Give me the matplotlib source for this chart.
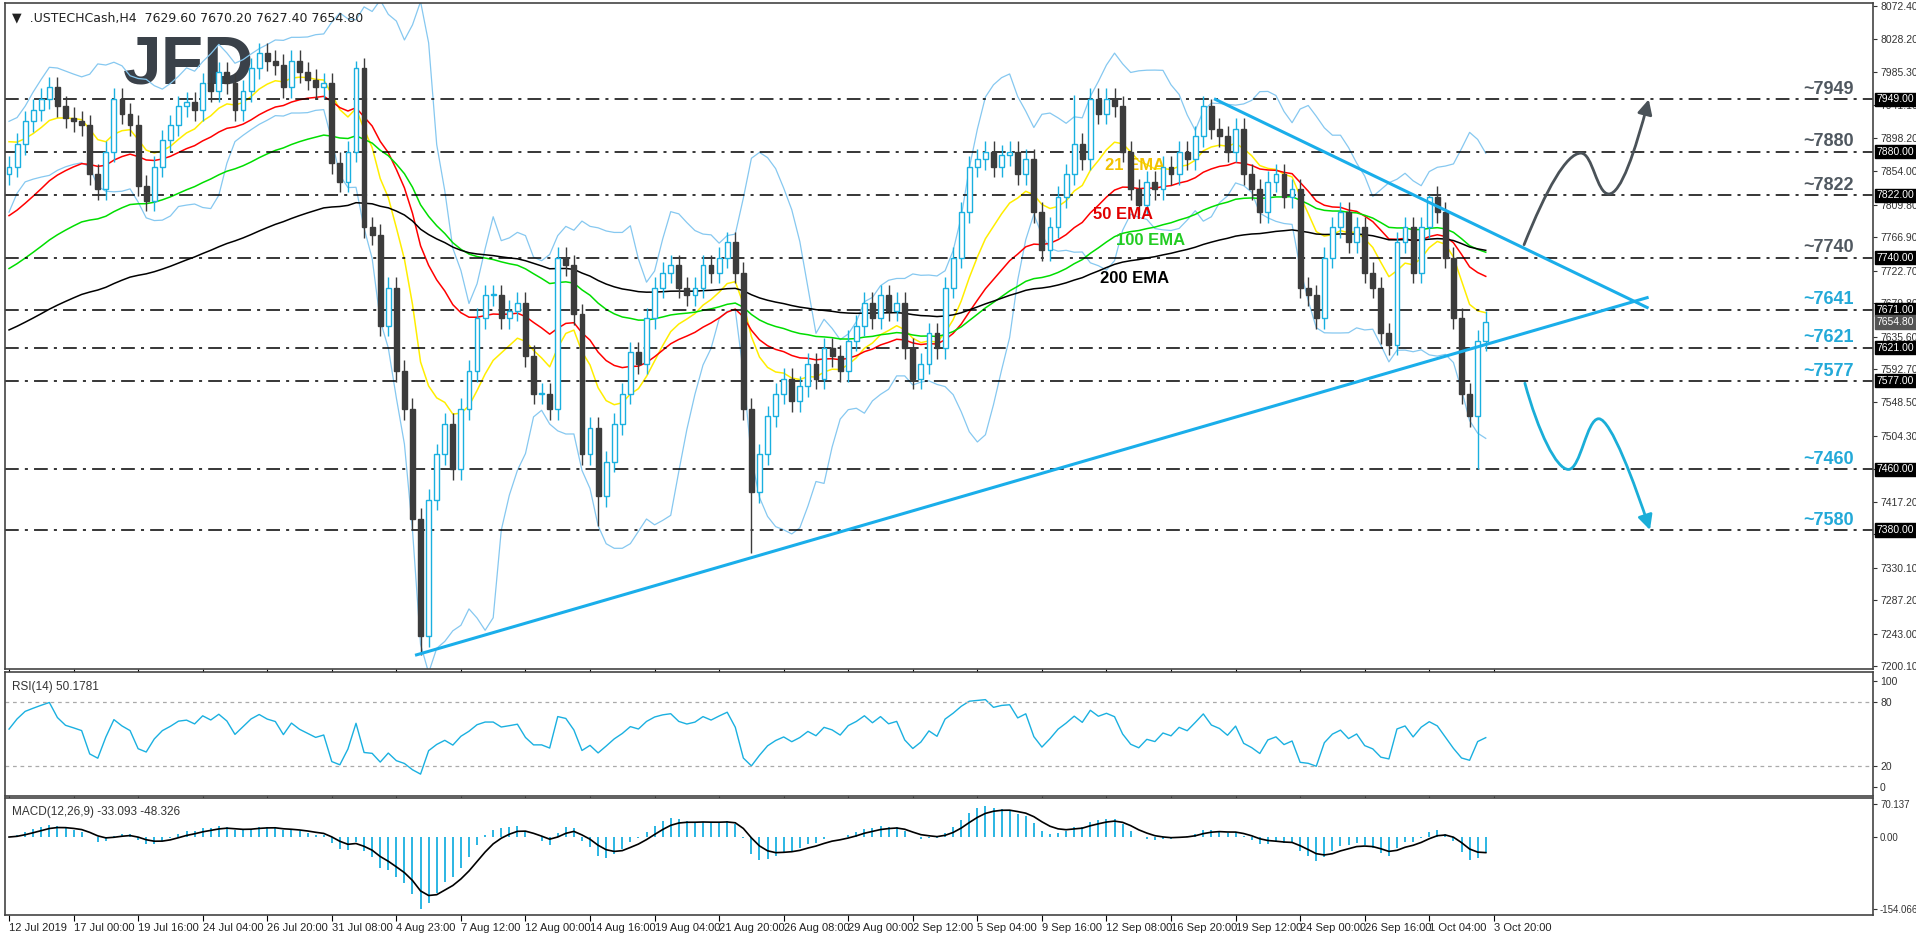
import numpy as np
import matplotlib.pyplot as plt
from matplotlib.path import Path
from matplotlib.patches import FancyArrowPatch, Rectangle

plt.rcParams['font.family'] = ['Liberation Sans', 'DejaVu Sans']

# closes, one candle per 2 H4 bars (bar index = 2*i)
closes = [
    7860, 7890, 7920, 7935, 7950, 7965, 7940, 7925, 7920, 7915,
    7850, 7830, 7880, 7950, 7930, 7915, 7835, 7815, 7860, 7895,
    7915, 7940, 7945, 7935, 7970, 7960, 7985, 7970, 7935, 7960,
    7990, 8010, 8000, 7995, 7965, 8000, 7985, 7975, 7965, 7970,
    7865, 7840, 7880, 7990, 7780, 7770, 7650, 7700, 7590, 7540,
    7395, 7240, 7420, 7480, 7520, 7460, 7540, 7590, 7660, 7690,
    7690, 7660, 7670, 7680, 7610, 7560, 7560, 7540, 7740, 7730,
    7665, 7480, 7515, 7425, 7470, 7520, 7560, 7615, 7600, 7660,
    7700, 7720, 7730, 7700, 7690, 7700, 7730, 7720, 7740, 7760,
    7720, 7540, 7430, 7480, 7530, 7560, 7580, 7550, 7570, 7600,
    7580, 7620, 7610, 7590, 7630, 7650, 7680, 7660, 7690, 7670,
    7680, 7620, 7580, 7600, 7640, 7620, 7700, 7740, 7800, 7860,
    7870, 7880, 7860, 7875, 7880, 7850, 7870, 7800, 7750, 7780,
    7820, 7850, 7890, 7870, 7950, 7930, 7950, 7940, 7880, 7830,
    7810, 7840, 7830, 7860, 7850, 7880, 7870, 7900, 7940, 7910,
    7900, 7880, 7910, 7850, 7830, 7800, 7840, 7850, 7820, 7830,
    7700, 7690, 7660, 7740, 7780, 7800, 7760, 7780, 7720, 7700,
    7640, 7625, 7760, 7780, 7720, 7780, 7820, 7800, 7740, 7660,
    7560, 7530, 7630, 7654.8,
]
first_open = 7850
wick = 14
low_override = {51: 7215, 73: 7385, 92: 7350, 182: 7460}
high_override = {43: 8000, 132: 7955, 149: 7949, 176: 7822}

ema_periods = [21, 50, 100, 200]
ema_colors = ['#ffee00', '#ff0000', '#00dd00', '#000000']
ema_seed = [7900, 7790, 7720, 7640]

levels = [7949, 7880, 7822, 7740, 7671, 7621, 7577, 7460, 7380]
level_text = ['~7949', '~7880', '~7822', '~7740', '~7641', '~7621', '~7577', '~7460', '~7580']
level_text_y = [7962, 7893, 7835, 7753, 7684, 7634, 7590, 7473, 7393]
price_ticks = [8072.40, 8028.20, 7985.30, 7941.10, 7898.20, 7854.00, 7809.80, 7766.90,
               7722.70, 7679.80, 7635.60, 7592.70, 7548.50, 7504.30, 7460.40, 7417.20,
               7374.30, 7330.10, 7287.20, 7243.00, 7200.10]
date_labels = ['12 Jul 2019', '17 Jul 00:00', '19 Jul 16:00', '24 Jul 04:00', '26 Jul 20:00',
               '31 Jul 08:00', '4 Aug 23:00', '7 Aug 12:00', '12 Aug 00:00', '14 Aug 16:00',
               '19 Aug 04:00', '21 Aug 20:00', '26 Aug 08:00', '29 Aug 00:00', '2 Sep 12:00',
               '5 Sep 04:00', '9 Sep 16:00', '12 Sep 08:00', '16 Sep 20:00', '19 Sep 12:00',
               '24 Sep 00:00', '26 Sep 16:00', '1 Oct 04:00', '3 Oct 20:00']

BULL = '#1ab0e0'
BEAR = '#3c3c3c'

c = np.array(closes, float)
n = len(c)
x = np.arange(n) * 2.0
o = np.concatenate([[first_open], c[:-1]])
hi = np.maximum(o, c) + wick
lo = np.minimum(o, c) - wick
for k, v in low_override.items():
    lo[k] = v
for k, v in high_override.items():
    hi[k] = v


def ema(vals, period_bars, seed):
    a = 2.0 / (period_bars / 2.0 + 1)
    out = np.empty(len(vals))
    prev = seed
    for i, v in enumerate(vals):
        prev = prev + a * (v - prev)
        out[i] = prev
    return out


fig = plt.figure(figsize=(19.16, 9.36), dpi=100)
L, W = 0.0026, 0.9750
ax = fig.add_axes([L, 0.285, W, 0.7115])
ax_rsi = fig.add_axes([L, 0.1496, W, 0.1325])
ax_m = fig.add_axes([L, 0.0224, W, 0.125])

XMAX = 462
for a_ in (ax, ax_rsi, ax_m):
    a_.set_xlim(-1, XMAX)
    a_.yaxis.tick_right()
    a_.tick_params(axis='y', labelsize=7.5, colors='#333333', length=3, pad=2)
    for s in a_.spines.values():
        s.set_color('#444444')
        s.set_linewidth(1.2)
    a_.set_xticks(np.arange(len(date_labels)) * 16)
    a_.set_xticklabels([])
    a_.tick_params(axis='x', length=4)

# bollinger bands (20)
bw = 10
mid = np.array([c[max(0, i - bw + 1):i + 1].mean() for i in range(n)])
sd = np.array([c[max(0, i - bw + 1):i + 1].std() if i > 0 else 30 for i in range(n)])
sd = np.maximum(sd, 25)
ax.plot(x, mid + 2 * sd, color='#86c8f0', lw=0.9)
ax.plot(x, mid - 2 * sd, color='#86c8f0', lw=0.9)

for p, col, s in zip(ema_periods, ema_colors, ema_seed):
    ax.plot(x, ema(c, p, s), color=col, lw=1.1)

# candles
for i in range(n):
    up = c[i] >= o[i]
    col = BULL if up else BEAR
    ax.vlines(x[i], lo[i], hi[i], color=col, lw=1.0, zorder=3)
    b0 = min(o[i], c[i])
    h = max(abs(c[i] - o[i]), 1.5)
    ax.add_patch(Rectangle((x[i] - 0.6, b0), 1.2, h, facecolor='white' if up else BEAR,
                           edgecolor=col, lw=1.0, zorder=4))

ax.set_ylim(7196, 8076)
ax.set_yticks(price_ticks)
ax.set_yticklabels([f'{t:.2f}' for t in price_ticks])

for lv in levels:
    ax.axhline(lv, color='black', lw=1.1, ls=(0, (9, 4, 2, 4)), zorder=2)
    ax.text(1.002, lv, f'{lv:.2f}', transform=ax.get_yaxis_transform(), va='center', ha='left',
            fontsize=7.5, color='white', bbox=dict(boxstyle='square,pad=0.15', fc='black', ec='black'),
            zorder=10)
ax.text(1.002, closes[-1], f'{closes[-1]:.2f}', transform=ax.get_yaxis_transform(), va='center',
        ha='left', fontsize=7.5, color='white',
        bbox=dict(boxstyle='square,pad=0.15', fc='#555555', ec='#555555'), zorder=10)

for i, (t, ty) in enumerate(zip(level_text, level_text_y)):
    ax.text(451, ty, t, ha='center', va='center', fontsize=13, fontweight='bold',
            color='#505860' if i < 4 else '#23a9d8')

# trend lines
ax.plot([101, 406], [7215, 7687], color='#1aaeea', lw=2.2, zorder=5)
ax.plot([299, 406], [7949, 7674], color='#1aaeea', lw=2.2, zorder=5)

# projection curves
gray_path = Path([(375.5, 7757), (381, 7830), (386, 7878), (389.6, 7878),
                  (392.5, 7878), (393.5, 7824), (396.5, 7824),
                  (399.5, 7824), (403, 7880), (406.4, 7949)],
                 [Path.MOVETO] + [Path.CURVE4] * 9)
ax.add_patch(FancyArrowPatch(path=gray_path, arrowstyle='-|>', mutation_scale=22,
                             color='#4a5258', lw=2, zorder=6))
cyan_path = Path([(375.7, 7574), (379, 7510), (383.5, 7460), (386.5, 7460),
                  (389.5, 7460), (391, 7527), (394, 7527),
                  (397, 7527), (403, 7440), (406.7, 7380)],
                 [Path.MOVETO] + [Path.CURVE4] * 9)
ax.add_patch(FancyArrowPatch(path=cyan_path, arrowstyle='-|>', mutation_scale=22,
                             color='#1aaed8', lw=2, zorder=6))

ax.text(279, 7862, '21 EMA', color='#f2c200', fontsize=12, fontweight='bold', ha='center', va='center')
ax.text(276, 7797, '50 EMA', color='#e00000', fontsize=12, fontweight='bold', ha='center', va='center')
ax.text(283, 7762, '100 EMA', color='#22cc22', fontsize=12, fontweight='bold', ha='center', va='center')
ax.text(279, 7712, '200 EMA', color='black', fontsize=12, fontweight='bold', ha='center', va='center')

ax.text(0.004, 0.988, '\u25bc  .USTECHCash,H4  7629.60 7670.20 7627.40 7654.80',
        transform=ax.transAxes, fontsize=9, va='top', color='#222222', family=['DejaVu Sans'])
ax.text(0.063, 0.955, 'JFD', transform=ax.transAxes, fontsize=50, fontweight='bold',
        color='#3a4149', va='top', ha='left', zorder=1)

# RSI
diff = np.diff(c, prepend=c[0])
g = np.where(diff > 0, diff, 0.0)
l_ = np.where(diff < 0, -diff, 0.0)
ag, al = 12.0, 10.0
rsi = []
for gi, li in zip(g, l_):
    ag = (ag * 6 + gi) / 7
    al = (al * 6 + li) / 7
    rsi.append(100 - 100 / (1 + ag / max(al, 1e-9)))
ax_rsi.plot(x, rsi, color='#1ab0e0', lw=1.0)
ax_rsi.axhline(80, color='#aaaaaa', lw=0.9, ls=(0, (3, 3)))
ax_rsi.axhline(20, color='#aaaaaa', lw=0.9, ls=(0, (3, 3)))
ax_rsi.set_ylim(-8, 108)
ax_rsi.set_yticks([100, 80, 20, 0])
ax_rsi.text(0.004, 0.93, 'RSI(14) 50.1781', transform=ax_rsi.transAxes, fontsize=8.5,
            va='top', color='#333333')


def ema_plain(vals, span):
    a = 2.0 / (span + 1)
    out = np.empty(len(vals))
    prev = vals[0]
    for i, v in enumerate(vals):
        prev = prev + a * (v - prev)
        out[i] = prev
    return out


# MACD
macd = ema_plain(c, 6) - ema_plain(c, 13)
sig = ema_plain(macd, 4.5)
ax_m.vlines(x, 0, macd, color='#1ab0e0', lw=1.3)
ax_m.plot(x, sig, color='black', lw=1.2)
ax_m.set_ylim(-168, 84)
ax_m.set_yticks([70.137, 0.0, -154.066])
ax_m.set_yticklabels(['70.137', '0.00', '-154.066'])
ax_m.tick_params(axis='y', labelsize=7)
ax_m.set_xticklabels(date_labels, fontsize=8, ha='left', color='#222222')
ax_m.tick_params(axis='x', pad=2)
ax_m.text(0.004, 0.93, 'MACD(12,26,9) -33.093 -48.326', transform=ax_m.transAxes, fontsize=8.5,
          va='top', color='#333333')

fig.savefig('out.png', dpi=100)
